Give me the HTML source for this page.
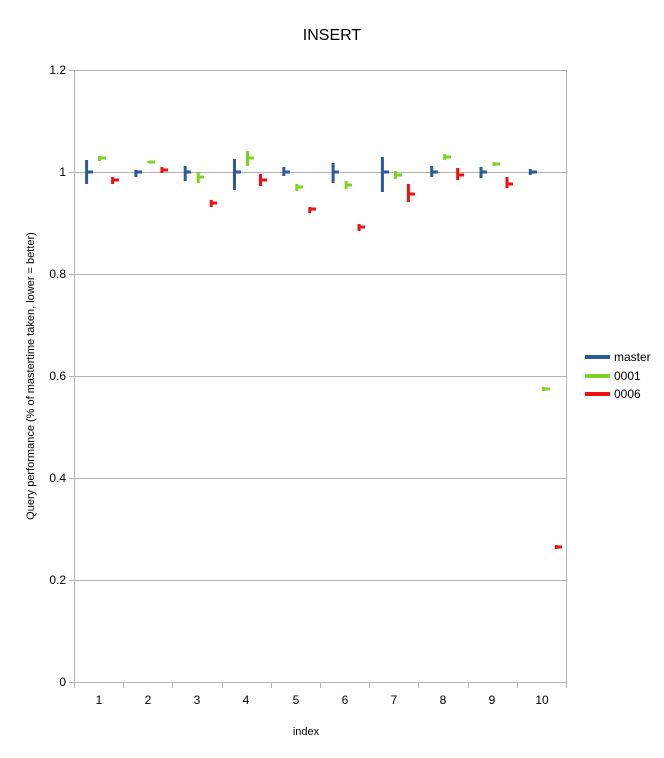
<!DOCTYPE html><html><head><style>body{margin:0;background:#fff}</style></head><body>
<svg width="664" height="753" xmlns="http://www.w3.org/2000/svg" font-family="Liberation Sans, sans-serif">
<rect width="664" height="753" fill="#fff"/>
<text x="332" y="40" font-size="16" text-anchor="middle">INSERT</text>
<g stroke="#b3b3b3" stroke-width="1">
<line x1="74" y1="70.5" x2="567" y2="70.5"/><line x1="74" y1="172.5" x2="567" y2="172.5"/>
<line x1="74" y1="274.5" x2="567" y2="274.5"/><line x1="74" y1="376.5" x2="567" y2="376.5"/>
<line x1="74" y1="478.5" x2="567" y2="478.5"/><line x1="74" y1="580.5" x2="567" y2="580.5"/>
<line x1="74" y1="682.5" x2="567" y2="682.5"/>
<line x1="74.5" y1="70" x2="74.5" y2="682"/><line x1="566.5" y1="70" x2="566.5" y2="688"/>
<line x1="69" y1="70.5" x2="74" y2="70.5"/><line x1="69" y1="172.5" x2="74" y2="172.5"/><line x1="69" y1="274.5" x2="74" y2="274.5"/><line x1="69" y1="376.5" x2="74" y2="376.5"/><line x1="69" y1="478.5" x2="74" y2="478.5"/><line x1="69" y1="580.5" x2="74" y2="580.5"/><line x1="69" y1="682.5" x2="74" y2="682.5"/>
<line x1="74.5" y1="682" x2="74.5" y2="688"/><line x1="123.5" y1="682" x2="123.5" y2="688"/><line x1="172.5" y1="682" x2="172.5" y2="688"/><line x1="222.5" y1="682" x2="222.5" y2="688"/><line x1="271.5" y1="682" x2="271.5" y2="688"/><line x1="320.5" y1="682" x2="320.5" y2="688"/><line x1="369.5" y1="682" x2="369.5" y2="688"/><line x1="418.5" y1="682" x2="418.5" y2="688"/><line x1="468.5" y1="682" x2="468.5" y2="688"/><line x1="517.5" y1="682" x2="517.5" y2="688"/>
</g>
<g font-size="12" text-anchor="end">
<text x="66" y="74">1.2</text><text x="66" y="176">1</text><text x="66" y="278">0.8</text><text x="66" y="380">0.6</text><text x="66" y="482">0.4</text><text x="66" y="584">0.2</text><text x="66" y="686">0</text>
</g>
<g font-size="12" text-anchor="middle">
<text x="99" y="704">1</text><text x="148" y="704">2</text><text x="197" y="704">3</text><text x="246" y="704">4</text><text x="296" y="704">5</text><text x="345" y="704">6</text><text x="394" y="704">7</text><text x="443" y="704">8</text><text x="492" y="704">9</text><text x="542" y="704">10</text>
<text x="306" y="735" font-size="11">index</text>
</g>
<text transform="translate(34,376) rotate(-90)" font-size="11" text-anchor="middle">Query performance (% of mastertime taken, lower = better)</text>
<g fill="none" stroke-width="3">
<path stroke="#2a5a97" d="M86.6 160V184M86.6 172H93 M135.9 170V177M135.9 172H142 M185.2 166V181M185.2 172H191 M234.5 159V190M234.5 172H241 M283.8 167V176M283.8 172H290 M333.1 163V183M333.1 172H339 M382.4 157V192M382.4 172H389 M431.7 166V177M431.7 172H438 M481 167V178M481 172H487 M530.3 169V175M530.3 172H537"/>
<path stroke="#7ed321" d="M99.6 156V161M99.6 158H106 M148.9 161V163M148.9 162H155 M198.2 172V183M198.2 177H204 M247.5 151V166M247.5 158H254 M296.8 184V191M296.8 187H303 M346.1 181V189M346.1 185H352 M395.4 171V179M395.4 175H402 M444.7 154V160M444.7 157H451 M494 162V166M494 164H500 M543.3 387V391M543.3 389H550"/>
<path stroke="#ee1111" d="M112.6 177V184M112.6 180H119 M161.9 167V173M161.9 170H168 M211.2 200V207M211.2 203H217 M260.5 174V186M260.5 180H267 M309.8 207V213M309.8 209H316 M359.1 224V231M359.1 227H365 M408.4 184V202M408.4 194H415 M457.7 168V180M457.7 175H464 M507 177V188M507 184H513 M556.3 545V549M556.3 547H562"/>
</g>
<g font-size="12">
<line x1="585" y1="357" x2="610" y2="357" stroke="#2a5a97" stroke-width="4"/><text x="614" y="361">master</text>
<line x1="585" y1="376" x2="610" y2="376" stroke="#7ed321" stroke-width="4"/><text x="614" y="380">0001</text>
<line x1="585" y1="394" x2="610" y2="394" stroke="#ee1111" stroke-width="4"/><text x="614" y="398">0006</text>
</g>
</svg></body></html>
